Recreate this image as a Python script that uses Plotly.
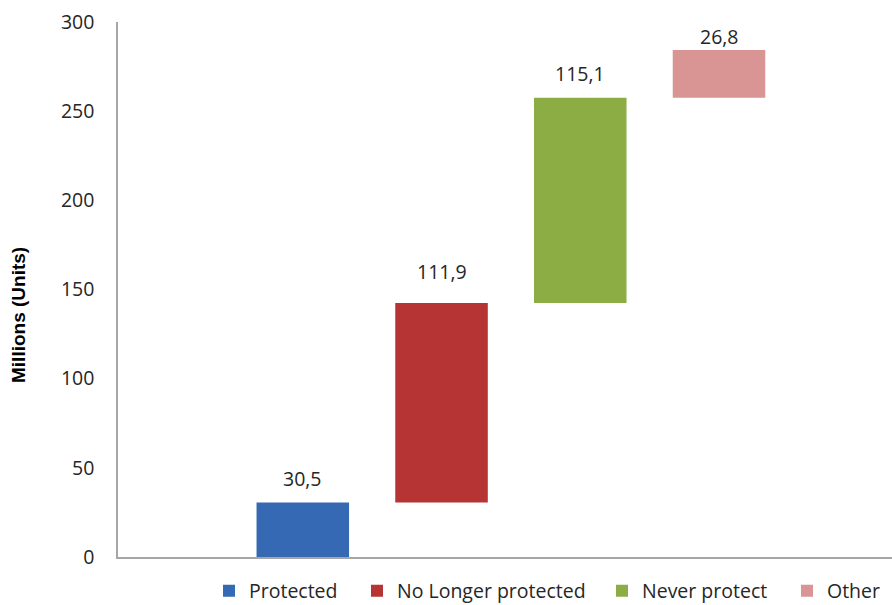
import plotly.graph_objects as go

# ---- data ----
categories = ["Protected", "No Longer protected", "Never protect", "Other"]
values = [30.5, 111.9, 115.1, 26.8]
y_ticks = [0, 50, 100, 150, 200, 250, 300]

# ---- style ----
colors = ["#3569B4", "#B63433", "#8BAD43", "#D99594"]
label_shift = [24, 32, 24, 14]
legend_left_px = [228, 376, 621, 806]
font_family = "Open Sans"
font_size = 19.5
text_color = "#262626"
W, H = 892, 605

# cumulative bases for the floating (waterfall-like) bars
bases = []
running = 0.0
for v in values:
    bases.append(running)
    running += v

positions = list(range(1, len(values) + 1))

fig = go.Figure()
legend_layouts = {}
for i, (cat, v, b) in enumerate(zip(categories, values, bases)):
    lname = "legend" if i == 0 else f"legend{i + 1}"
    fig.add_trace(go.Bar(
        x=[positions[i]], y=[v], base=[b], name=cat,
        width=0.667, legend=lname,
        marker=dict(color=colors[i], line=dict(width=0)),
        hoverinfo="skip",
    ))
    legend_layouts[lname] = dict(
        orientation="h", xref="container", yref="container",
        x=(legend_left_px[i] - 19) / W, xanchor="left",
        y=14 / H, yanchor="middle",
        bgcolor="rgba(0,0,0,0)", borderwidth=0,
        font=dict(family=font_family, size=font_size, color=text_color),
    )
    fig.add_annotation(
        x=positions[i], y=b + v, xref="x", yref="y",
        text=f"{v:.1f}".replace(".", ","),
        showarrow=False, yanchor="middle", yshift=label_shift[i],
        font=dict(family=font_family, size=font_size, color=text_color),
    )

plot_l, plot_b, plot_w, plot_h = 118, 48, W - 118, H - 22 - 48
fig.add_annotation(
    x=(18 - plot_l) / plot_w, y=((H - 315) - plot_b) / plot_h,
    xref="paper", yref="paper",
    xanchor="center", yanchor="middle",
    text="<b>Millions (Units)</b>", textangle=-90, showarrow=False,
    font=dict(family="Liberation Sans", size=19, color="#000000"),
)

fig.update_layout(
    width=W, height=H,
    margin=dict(l=118, r=0, t=22, b=48),
    paper_bgcolor="white", plot_bgcolor="white",
    barmode="overlay",
    showlegend=True,
    xaxis=dict(
        range=[-0.332, 5.247], showticklabels=False, showgrid=False,
        zeroline=False, showline=True, linecolor="#A6A6A6", linewidth=1.5,
        ticks="", fixedrange=True,
    ),
    yaxis=dict(
        range=[0, 300], tickvals=y_ticks, showgrid=False, zeroline=False,
        showline=True, linecolor="#A6A6A6", linewidth=1.5, ticks="",
        ticklabelstandoff=18,
        tickfont=dict(family=font_family, size=font_size, color=text_color),
    ),
    **legend_layouts,
)

fig.write_html("out.html")
